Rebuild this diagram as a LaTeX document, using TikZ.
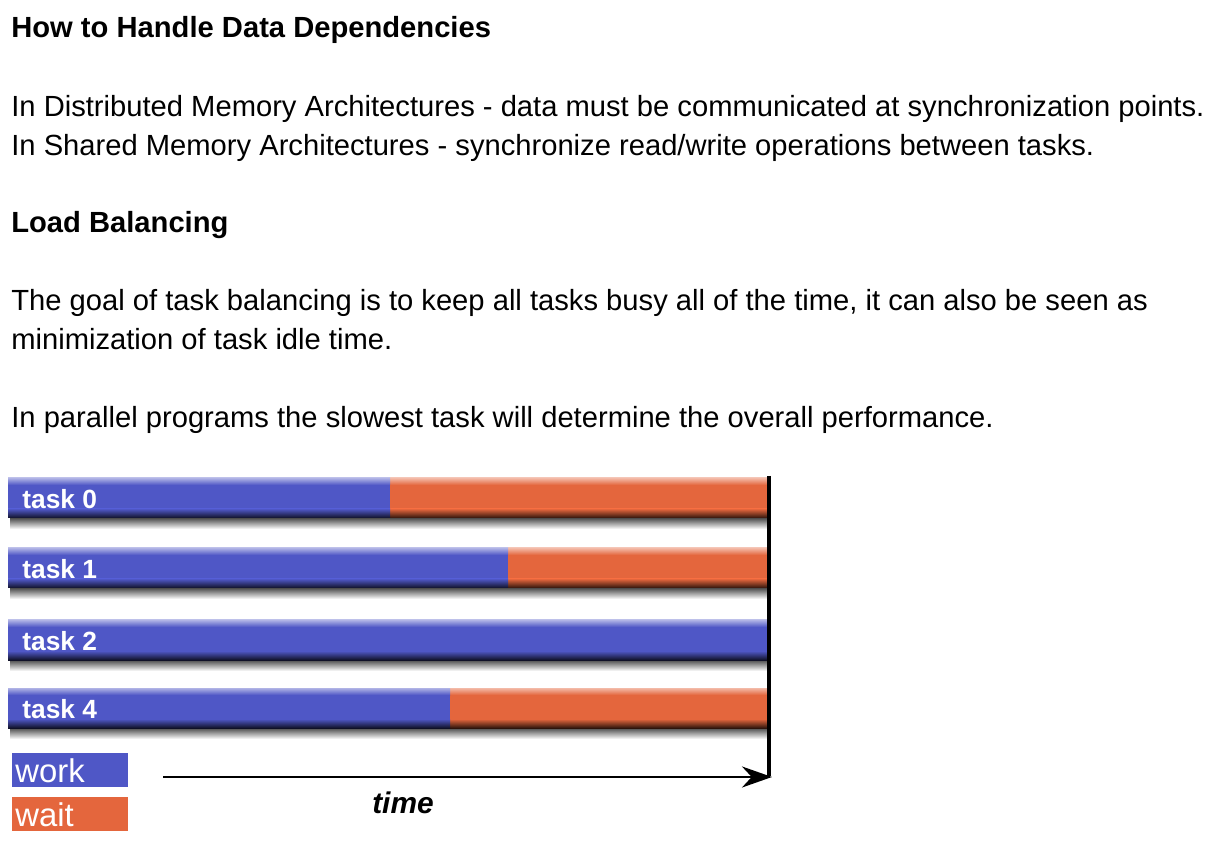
\documentclass[tikz,border=0pt]{standalone}
\usepackage{fontspec}
\setmainfont{Liberation Sans}
\usetikzlibrary{arrows.meta}
\definecolor{workBlue}{HTML}{4F57C6}
\definecolor{waitOrange}{HTML}{E4663D}

\begin{document}
\begin{tikzpicture}[x=0.02cm, y=-0.02cm,
  head/.style={anchor=base west, inner sep=0pt, font=\fontsize{16.6}{22}\selectfont\bfseries},
  body/.style={anchor=base west, inner sep=0pt, font=\fontsize{16.6}{22}\selectfont},
  tasklab/.style={anchor=west, inner sep=0pt, text=white, font=\fontsize{15}{18}\selectfont\bfseries},
  legend/.style={anchor=north west, text=white, minimum height=0.68cm, text width=2.2cm,
                 inner xsep=0.06cm, inner ysep=0pt, align=left, font=\fontsize{18.7}{20}\selectfont},
  arr/.style={-{Stealth[length=0.6cm, width=0.42cm]}, line width=1.6pt}
]
\useasboundingbox (0,0) rectangle (1214,864);

% text above the chart
\node[head] (hDeps) at (11,38)  {How to Handle Data Dependencies};
\node[body] (dist)  at (11,117) {In Distributed Memory Architectures - data must be communicated at synchronization points.};
\node[body] (shrd)  at (11,156) {In Shared Memory Architectures - synchronize read/write operations between tasks.};
\node[head] (hLoad) at (11,233) {Load Balancing};
\node[body] (goal)  at (11,311) {The goal of task balancing is to keep all tasks busy all of the time, it can also be seen as};
\node[body] (goal2) at (11,350) {minimization of task idle time.};
\node[body] (slow)  at (11,428) {In parallel programs the slowest task will determine the overall performance.};

% task bars: label / top / end of work
\foreach \n/\top/\split in {0/478/390, 1/548/508, 2/620/768, 4/688/450} {
  \shade[top color=black!70, bottom color=white] (10,\top+40) rectangle (768,\top+51);
  \fill[waitOrange] (8,\top) rectangle (768,\top+40);
  \shade[top color=white!55!waitOrange, bottom color=waitOrange] (8,\top) rectangle (768,\top+7);
  \shade[top color=waitOrange, bottom color=waitOrange!20!black] (8,\top+31) rectangle (768,\top+40);
  \fill[workBlue] (8,\top) rectangle (\split,\top+40);
  \shade[top color=white!55!workBlue, bottom color=workBlue] (8,\top) rectangle (\split,\top+7);
  \shade[top color=workBlue, bottom color=workBlue!20!black] (8,\top+31) rectangle (\split,\top+40);
  \node[tasklab] (task\n) at (22,\top+21) {task \n};
}

% sync line and time axis
\coordinate (syncTop) at (769,476);
\coordinate (syncBot) at (769,776);
\draw[line width=2.2pt] (syncTop) -- (syncBot);
\coordinate (tStart) at (163,777);
\coordinate (tEnd)   at (772,777);
\draw[arr] (tStart) -- (tEnd);
\node[font=\fontsize{17}{20}\selectfont\bfseries\itshape] (timeLab) at (403,803) {time};

% legend
\node[legend, fill=workBlue]   (work) at (12,753) {work};
\node[legend, fill=waitOrange] (wait) at (12,797) {wait};
\end{tikzpicture}
\end{document}
